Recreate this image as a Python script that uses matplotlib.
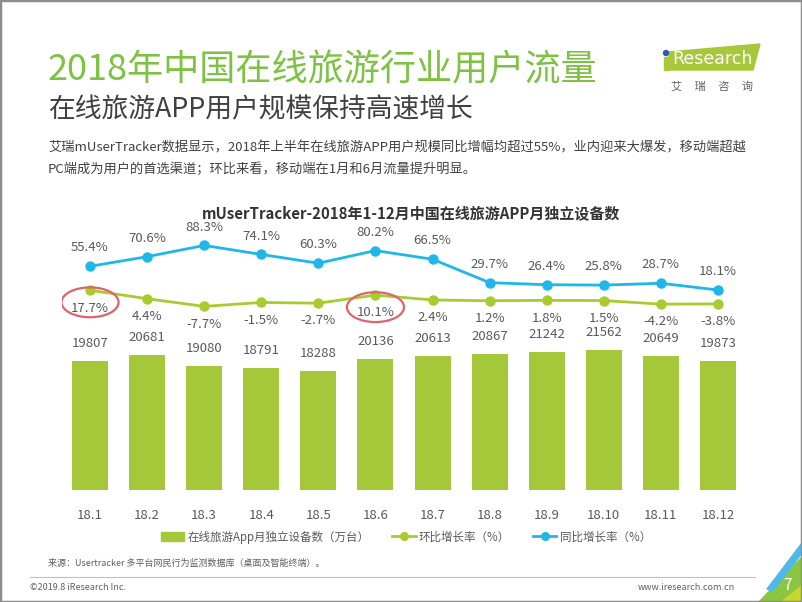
import matplotlib
matplotlib.use("Agg")
import matplotlib.pyplot as plt
from matplotlib.patches import Patch, Polygon, Ellipse, Rectangle
from matplotlib.lines import Line2D
import numpy as np

plt.rcParams["font.family"] = ["Noto Sans CJK SC", "DejaVu Sans"]

# ── Data ──────────────────────────────────────────────────────────────────────
months = ["18.1", "18.2", "18.3", "18.4", "18.5", "18.6",
          "18.7", "18.8", "18.9", "18.10", "18.11", "18.12"]
devices = [19807, 20681, 19080, 18791, 18288, 20136,
           20613, 20867, 21242, 21562, 20649, 19873]
mom_rate = [17.7, 4.4, -7.7, -1.5, -2.7, 10.1, 2.4, 1.2, 1.8, 1.5, -4.2, -3.8]
yoy_rate = [55.4, 70.6, 88.3, 74.1, 60.3, 80.2, 66.5, 29.7, 26.4, 25.8, 28.7, 18.1]
highlight = ["18.1", "18.6"]

title = "2018年中国在线旅游行业用户流量"
subtitle = "在线旅游APP用户规模保持高速增长"
body = ["艾瑞mUserTracker数据显示，2018年上半年在线旅游APP用户规模同比增幅均超过55%，业内迎来大爆发，移动端超越",
        "PC端成为用户的首选渠道；环比来看，移动端在1月和6月流量提升明显。"]
chart_title = "mUserTracker-2018年1-12月中国在线旅游APP月独立设备数"
legend_labels = ["在线旅游App月独立设备数（万台）", "环比增长率（%）", "同比增长率（%）"]
source = "来源：Usertracker 多平台网民行为监测数据库（桌面及智能终端）。"

BAR_C = "#A5C83A"
MOM_C = "#A8CC30"
YOY_C = "#1FB7EA"
GREEN_T = "#7DC242"
GRAY = "#595959"

W, H = 802, 602
fig = plt.figure(figsize=(8.02, 6.02), dpi=100)


def px(x, y):
    return x / W, 1 - y / H


# ── Header ────────────────────────────────────────────────────────────────────
fig.text(*px(48, 70), title, fontsize=26, color=GREEN_T, va="center", ha="left")
fig.text(*px(48, 110), subtitle, fontsize=19.3, color="#404040", va="center", ha="left")
for i, line in enumerate(body):
    fig.text(*px(48, 148 + i * 21), line, fontsize=9.5, color="#404040",
             va="center", ha="left")

# logo
logo = Polygon([px(669, 52), px(760, 44), px(753, 70), px(669, 70)],
               closed=True, transform=fig.transFigure, color="#A7C83A")
fig.patches.append(logo)
fig.text(*px(712, 59), "Research", fontsize=12.5, color="white",
         va="center", ha="center", family="DejaVu Sans")
fig.patches.append(Rectangle(px(664, 70), 4 / W, 13 / H, transform=fig.transFigure,
                             color="#A7C83A"))
fig.patches.append(Ellipse(px(666, 53), 5 / W, 5 / H, transform=fig.transFigure,
                           color="#2E5AAC"))
fig.text(*px(712, 86), "艾     瑞     咨     询", fontsize=8, color="#606060",
         va="center", ha="center")

# ── Chart ─────────────────────────────────────────────────────────────────────
ax = fig.add_axes([61.5 / W, 1 - 490 / H, 685 / W, 260 / H])
x = np.arange(len(months))
ax.bar(x, devices, width=0.63, color=BAR_C, zorder=2)
for xi, v in zip(x, devices):
    ax.text(xi, v + 1700, f"{v}", ha="center", va="bottom", fontsize=9.5, color=GRAY)
ax.set_xlim(-0.5, len(months) - 0.5)
ax.set_ylim(0, 39940)
ax.set_xticks(x)
ax.set_xticklabels(months, fontsize=9.5, color=GRAY)
ax.tick_params(axis="x", length=0, pad=14)
ax.set_yticks([])
for s in ax.spines.values():
    s.set_visible(False)

ax2 = ax.twinx()
ax2.plot(x, yoy_rate, color=YOY_C, lw=2, marker="o", ms=6.5, zorder=3)
ax2.plot(x, mom_rate, color=MOM_C, lw=2, marker="o", ms=6.5, zorder=3)
for xi, v in zip(x, yoy_rate):
    ax2.text(xi, v + 29, f"{v}%", ha="center", va="center", fontsize=9.5, color=GRAY)
for xi, v in zip(x, mom_rate):
    ax2.text(xi, v - 28, f"{v}%", ha="center", va="center", fontsize=9.5, color=GRAY)
for m in highlight:
    i = months.index(m)
    ax2.add_patch(Ellipse((i, mom_rate[i] - 19), 1.0, 47, fill=False,
                          edgecolor="#E0636B", lw=1.6, zorder=4))
ax2.set_ylim(-296.9, 112.6)
ax2.set_yticks([])
for s in ax2.spines.values():
    s.set_visible(False)

fig.text(*px(411, 213), chart_title, fontsize=10.8, fontweight="bold",
         color="#333333", ha="center", va="center")

handles = [Patch(color=BAR_C),
           Line2D([], [], color=MOM_C, lw=2, marker="o", ms=5.5),
           Line2D([], [], color=YOY_C, lw=2, marker="o", ms=5.5)]
fig.legend(handles, legend_labels, loc="center", bbox_to_anchor=px(406, 537),
           ncol=3, frameon=False, fontsize=8.3, labelcolor=GRAY,
           handlelength=2.0, handleheight=0.9, columnspacing=2.0, handletextpad=0.3)

# ── Footer ────────────────────────────────────────────────────────────────────
fig.text(*px(48, 563), source, fontsize=6.5, color="#606060", va="center", ha="left")
fig.add_artist(Line2D([30 / W, 755 / W], [1 - 577 / H, 1 - 577 / H],
                      color="#BFBFBF", lw=0.8))
fig.text(*px(30, 588), "©2019.8 iResearch Inc.", fontsize=6.5, color="#606060",
         va="center", ha="left")
fig.text(*px(735, 588), "www.iresearch.com.cn", fontsize=6.5, color="#606060",
         va="center", ha="right")

# corner decoration
fig.patches.append(Polygon([px(802, 556), px(802, 602), px(758, 602)], closed=True,
                           transform=fig.transFigure, color="#8CC63F"))
fig.patches.append(Polygon([px(802, 543), px(802, 553), px(773, 591), px(767, 589)],
                           closed=True, transform=fig.transFigure, color="#4FB8E8"))
fig.patches.append(Polygon([px(802, 585), px(802, 602), px(780, 602)], closed=True,
                           transform=fig.transFigure, color="#C8D830"))
fig.text(*px(787, 586), "7", fontsize=11, color="white", va="center", ha="center")

# slide border
fig.patches.append(Rectangle((0, 0), 1, 1, transform=fig.transFigure, fill=False,
                             edgecolor="#8C8C8C", lw=2.5))

fig.savefig("out.png", dpi=100)
